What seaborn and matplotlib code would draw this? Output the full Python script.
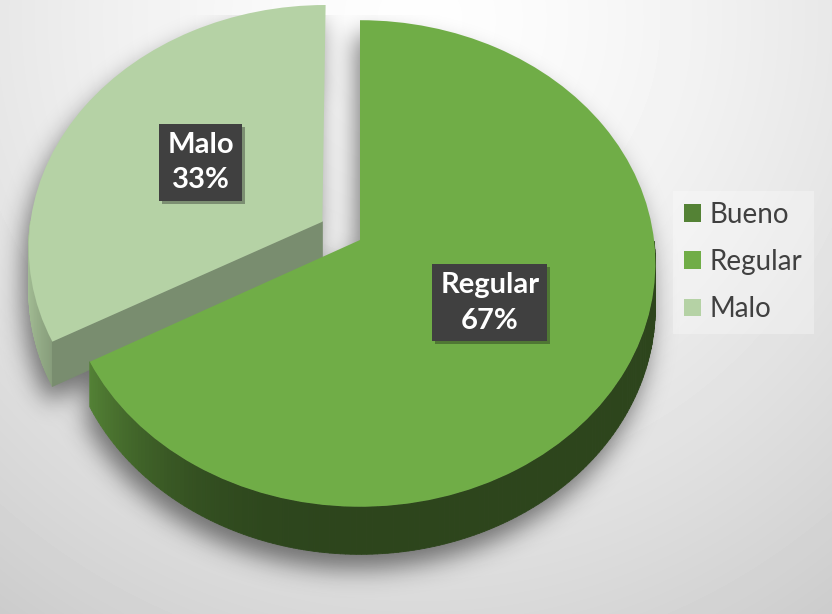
import numpy as np
import matplotlib
matplotlib.use("Agg")
import matplotlib.pyplot as plt
import matplotlib.transforms as mtransforms
import matplotlib.patches as mpatches
import matplotlib.patheffects as pe
import matplotlib.colors as mcolors
from matplotlib.path import Path
from matplotlib.collections import PolyCollection
import seaborn as sns

# ---- data -------------------------------------------------------------
categories = ["Bueno", "Regular", "Malo"]
shares = [0, 67, 33]
explode = [0.0, 0.0, 0.15]
top_colors = ["#548235", "#70ad47", "#b5d2a5"]

# ---- canvas / view settings ---------------------------------------------
W, H = 832, 614
CX, CY = 360, 240        # where the pie centre lands on the canvas
SX, SY = 294, 241        # horizontal / vertical spread of the tilted disk
TILT = 0.0965            # perspective strength (far side looks smaller)
DEPTH = 43               # thickness of the disk

sns.set_theme(style="white")
plt.rcParams["font.family"] = ["Lato", "DejaVu Sans"]


def project(x, y, z=0.0):
    """Map a point of the unit pie (z = 0 top, z = 1 bottom) to the canvas."""
    x = np.asarray(x, dtype=float)
    y = np.asarray(y, dtype=float)
    d = 1.0 + TILT * y
    return CX + SX * x / d, CY - SY * y / d + DEPTH * np.asarray(z) / d


class TiltTransform(mtransforms.Transform):
    input_dims = 2
    output_dims = 2
    is_separable = False
    has_inverse = False

    def transform_non_affine(self, values):
        v = np.asarray(values, dtype=float)
        flat = v.reshape(-1, 2)
        px, py = project(flat[:, 0], flat[:, 1])
        out = np.column_stack([px, py])
        return out[0] if v.ndim == 1 else out


def darker(color, k):
    r, g, b = mcolors.to_rgb(color)
    return (min(r * k, 1), min(g * k, 1), min(b * k, 1))


def rim_light(angle):
    """Brightness of the rim: lit where it turns to the left, dark elsewhere."""
    return 0.40 + 0.52 * max(0.0, -np.cos(angle)) ** 3


fig = plt.figure(figsize=(W / 100, H / 100), dpi=100)

# soft grey backdrop
bg_ax = fig.add_axes([0, 0, 1, 1], zorder=0)
yy, xx = np.mgrid[0:H, 0:W] + 0.5
rr = np.hypot((xx - 420) / 640, (yy - 20) / 650)
backdrop = 0.995 - 0.165 * np.clip(rr, 0, 1.3) ** 1.5
bg_ax.imshow(backdrop, cmap="gray", vmin=0, vmax=1, extent=(0, W, H, 0),
             interpolation="bilinear", aspect="auto")
bg_ax.set_xlim(0, W)
bg_ax.set_ylim(H, 0)
bg_ax.axis("off")

ax = fig.add_axes([0, 0, 1, 1], zorder=1)
ax.patch.set_alpha(0)
wedges, _ = ax.pie(shares, explode=explode, colors=top_colors, startangle=90,
                   counterclock=False, wedgeprops=dict(linewidth=0))
ax.set_aspect("auto")
ax.set_xlim(0, W)
ax.set_ylim(H, 0)
ax.axis("off")
tilt = TiltTransform()

# ---- drop shadow under the disk ------------------------------------------
step = 2
gy, gx = np.mgrid[0:H:step, 0:W:step] + step / 2
grid_pts = np.column_stack([gx.ravel(), gy.ravel()])
mask = np.zeros(gx.size, dtype=bool)
for i, w in enumerate(wedges):
    if shares[i] <= 0:
        continue
    th = np.deg2rad(np.linspace(w.theta1, w.theta2, 120))
    ox = np.r_[w.center[0], w.center[0] + w.r * np.cos(th)]
    oy = np.r_[w.center[1], w.center[1] + w.r * np.sin(th)]
    for zz in np.linspace(0, 1, 6):
        px, py = project(ox, oy, zz)
        mask |= Path(np.column_stack([px, py])).contains_points(grid_pts)
mask = mask.reshape(gx.shape).astype(float)
sig = 12 / step
kx = np.arange(-int(4 * sig), int(4 * sig) + 1)
kern = np.exp(-0.5 * (kx / sig) ** 2)
kern /= kern.sum()
blur = np.apply_along_axis(lambda r: np.convolve(r, kern, mode="same"), 1, mask)
blur = np.apply_along_axis(lambda c: np.convolve(c, kern, mode="same"), 0, blur)
rgba = np.zeros(blur.shape + (4,))
rgba[..., 3] = 0.5 * blur
ax.imshow(rgba, extent=(0 - 5, W - 5, H + 15, 15), zorder=2,
          interpolation="bilinear", aspect="auto")
ax.set_xlim(0, W)
ax.set_ylim(H, 0)

# ---- slices: sides first, then the top face -----------------------------
order = sorted(range(len(wedges)), key=lambda i: -wedges[i].center[1])
zorder = 10
for i in order:
    w = wedges[i]
    if shares[i] <= 0:
        w.set_visible(False)
        continue
    cx, cy = w.center
    r = w.r
    t1, t2 = np.deg2rad(w.theta1), np.deg2rad(w.theta2)
    polys, cols = [], []
    # outer rim, only the part turned towards the viewer
    th = np.linspace(t1, t2, 260)
    for a, b in zip(th[:-1], th[1:]):
        m = 0.5 * (a + b)
        if np.sin(m) >= 0:
            continue
        ang = np.array([a, b, b, a])
        px, py = project(cx + r * np.cos(ang), cy + r * np.sin(ang),
                         np.array([0, 0, 1, 1]))
        polys.append(np.column_stack([px, py]))
        cols.append(darker(top_colors[i], rim_light(m)))
    # flat cut faces
    for edge, normal in ((t1, t1 - np.pi / 2), (t2, t2 + np.pi / 2)):
        if np.sin(normal) < -0.05:
            ex, ey = cx + r * np.cos(edge), cy + r * np.sin(edge)
            px, py = project([cx, ex, ex, cx], [cy, ey, ey, cy],
                             np.array([0, 0, 1, 1]))
            polys.append(np.column_stack([px, py]))
            cols.append(darker(top_colors[i], 0.67))
    ax.add_collection(PolyCollection(polys, facecolors=cols, edgecolors=cols,
                                     linewidths=0.6, zorder=zorder))
    w.set_transform(tilt + ax.transData)
    w.set_zorder(zorder + 1)
    zorder += 2

# ---- data labels -----------------------------------------------------------
total = float(sum(shares))
for i, w in enumerate(wedges):
    if shares[i] <= 0:
        continue
    mid = np.deg2rad(0.5 * (w.theta1 + w.theta2))
    lx = w.center[0] + 0.5 * w.r * np.cos(mid)
    ly = w.center[1] + 0.5 * w.r * np.sin(mid)
    t = ax.text(lx, ly, f"{categories[i]}\n{shares[i] / total * 100:.0f}%",
                transform=tilt + ax.transData, ha="center", va="center",
                color="white", fontsize=21, fontweight="bold", linespacing=1.45,
                zorder=60,
                bbox=dict(boxstyle="square,pad=0.27", fc="#404040", ec="none"))
    t.get_bbox_patch().set_path_effects(
        [pe.SimplePatchShadow(offset=(2, -2), alpha=0.35), pe.Normal()])

# ---- legend -------------------------------------------------------------------
handles = [mpatches.Patch(facecolor=c, edgecolor="none") for c in top_colors]
leg = fig.legend(handles, categories, loc="center left",
                 bbox_to_anchor=(673 / W, 1 - 262 / H), fontsize=20,
                 labelcolor="#404040", handlelength=0.6, handleheight=0.6,
                 handletextpad=0.32, labelspacing=0.77, borderpad=0.4,
                 borderaxespad=0, frameon=True, fancybox=False)
leg.get_frame().set_facecolor("white")
leg.get_frame().set_alpha(0.3)
leg.get_frame().set_edgecolor("none")

fig.savefig("out.png", dpi=100)
